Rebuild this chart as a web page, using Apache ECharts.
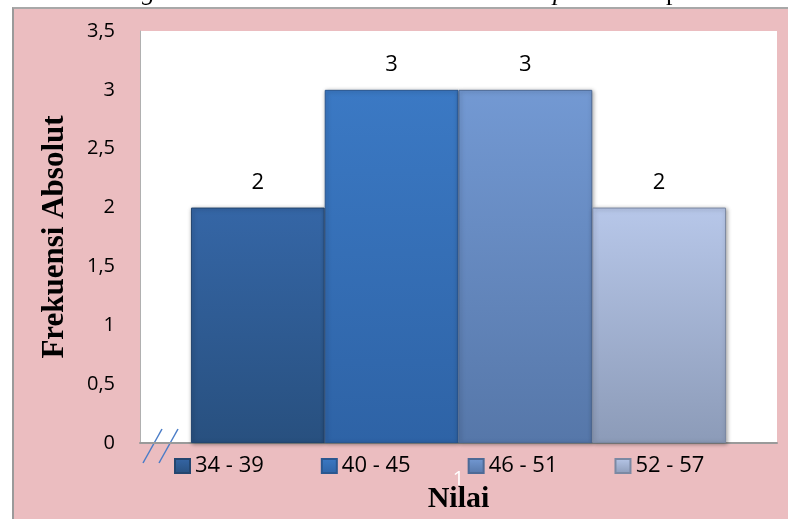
<!DOCTYPE html>
<html>
<head>
<meta charset="utf-8">
<script src="https://cdn.jsdelivr.net/npm/echarts@6/dist/echarts.min.js"></script>
<style>
    html, body { margin: 0; padding: 0; background: #fff; }
    .frame {
        position: absolute; left: 12px; top: 7px; width: 776px; height: 512px;
        background: #ebbdc0; border-left: 2px solid #9a9a9a; border-top: 2px solid #a8a8a8;
        box-sizing: border-box;
    }
    #chart { position: absolute; left: 0; top: 0; width: 788px; height: 519px; }
</style>
</head>
<body>
<div class="frame"></div>
<div id="chart"></div>
<script>
// data
var categories = ['1'];
var seriesNames = ['34 - 39', '40 - 45', '46 - 51', '52 - 57'];
var seriesValues = [[2], [3], [3], [2]];
var yTicks = [0, 0.5, 1, 1.5, 2, 2.5, 3, 3.5];

var topColors = ['#3566a6', '#3b79c4', '#7399d3', '#b7c7e9'];
var bottomColors = ['#28507f', '#2e63a6', '#5677a9', '#8c9bb8'];
var borderColors = ['#24466f', '#2a5790', '#4d6a96', '#7b89a3'];

var myChart = echarts.init(document.getElementById('chart'));

var series = seriesNames.map(function (name, i) {
    return {
        name: name,
        type: 'bar',
        data: seriesValues[i],
        barGap: '0%',
        barCategoryGap: '16%',
        itemStyle: {
            color: new echarts.graphic.LinearGradient(0, 0, 0, 1, [
                {offset: 0, color: topColors[i]},
                {offset: 1, color: bottomColors[i]}
            ]),
            borderColor: borderColors[i],
            borderWidth: 1,
            shadowColor: 'rgba(0,0,0,0.35)',
            shadowBlur: 4,
            shadowOffsetX: 1,
            shadowOffsetY: 1
        },
        label: {
            show: true,
            position: 'top',
            distance: 14,
            color: '#000',
            fontSize: 22,
            fontFamily: 'Open Sans'
        }
    };
});

var option = {
    animation: false,
    grid: {
        left: 140, right: 11, top: 31, bottom: 76,
        outerBoundsMode: 'none',
        show: true, backgroundColor: '#fff', borderWidth: 0
    },
    legend: {
        data: seriesNames,
        icon: 'rect',
        left: 174,
        top: 455,
        padding: 0,
        itemWidth: 15,
        itemHeight: 14,
        itemGap: 57,
        textStyle: {fontSize: 22, fontFamily: 'Open Sans', color: '#000'}
    },
    xAxis: {
        type: 'category',
        data: categories,
        name: 'Nilai',
        nameLocation: 'middle',
        nameGap: 41,
        nameMoveOverlap: false,
        nameTextStyle: {fontFamily: 'Liberation Serif', fontWeight: 'bold', fontSize: 30, color: '#000'},
        axisLine: {lineStyle: {color: '#9a9a9a', width: 2}},
        axisTick: {show: false},
        axisLabel: {color: '#fff', fontSize: 20, fontFamily: 'Open Sans', margin: 26}
    },
    yAxis: {
        type: 'value',
        min: 0,
        max: 3.5,
        interval: 0.5,
        name: 'Frekuensi Absolut',
        nameLocation: 'middle',
        nameGap: 70,
        nameMoveOverlap: false,
        nameTextStyle: {fontFamily: 'Liberation Serif', fontWeight: 'bold', fontSize: 31, color: '#000'},
        axisLine: {show: true, lineStyle: {color: '#b0b0b0', width: 1}},
        axisTick: {show: false},
        splitLine: {show: false},
        axisLabel: {
            color: '#000', fontSize: 20, fontFamily: 'Open Sans', margin: 25,
            formatter: function (v) {
                return yTicks.indexOf(v) >= 0 ? String(v).replace('.', ',') : '';
            }
        }
    },
    graphic: [
        {type: 'line', shape: {x1: 143, y1: 463, x2: 162, y2: 429}, style: {stroke: '#4a7cc7', lineWidth: 1.5}},
        {type: 'line', shape: {x1: 159, y1: 463, x2: 178, y2: 429}, style: {stroke: '#4a7cc7', lineWidth: 1.5}},
        // bits of the caption above the frame, cut off by the crop
        {type: 'text', x: 142, y: -20, style: {text: 'g', font: 'italic 26px "Liberation Serif"', fill: '#000'}},
        {type: 'text', x: 553, y: -20, style: {text: 'p', font: 'italic 26px "Liberation Serif"', fill: '#000'}},
        {type: 'text', x: 666, y: -20, style: {text: 'p', font: '26px "Liberation Serif"', fill: '#000'}}
    ],
    series: series
};
myChart.setOption(option);
</script>
</body>
</html>
